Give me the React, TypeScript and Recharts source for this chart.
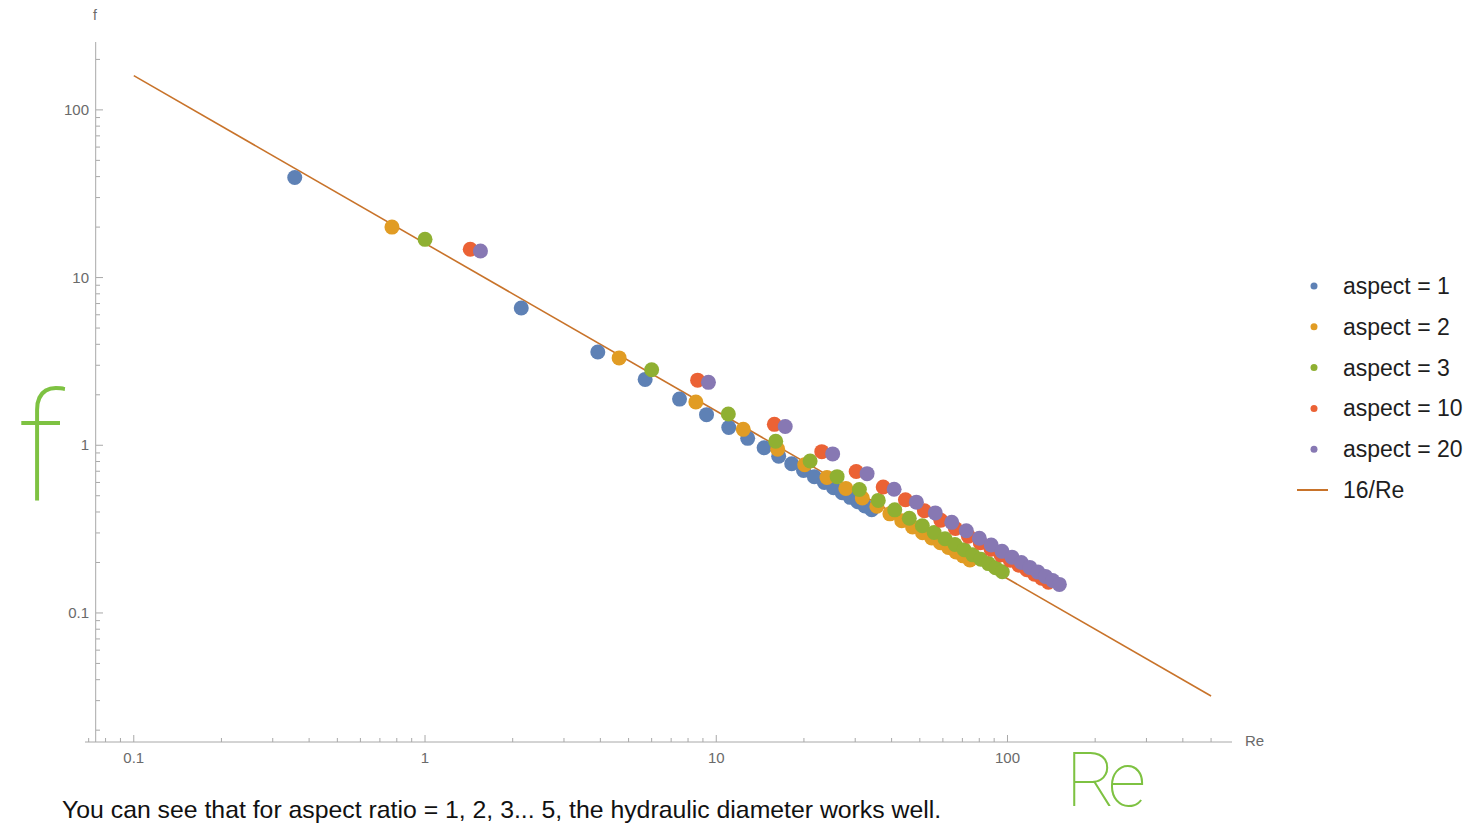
import React from 'react';
import { ScatterChart, Scatter, XAxis, YAxis, ReferenceLine } from 'recharts';

// ---- data (Re, f) per aspect ratio ----
const re1 = [0.357, 2.14, 3.92, 5.70, 7.48, 9.26, 11.04, 12.82, 14.60, 16.38, 18.16, 19.94, 21.72, 23.50, 25.28, 27.06, 28.84, 30.62, 32.40, 34.18];
const f1 = [39.5, 6.59, 3.60, 2.47, 1.885, 1.523, 1.277, 1.100, 0.966, 0.861, 0.776, 0.707, 0.649, 0.600, 0.558, 0.521, 0.489, 0.460, 0.435, 0.413];
const re2 = [0.77, 4.64, 8.51, 12.38, 16.25, 20.12, 23.99, 27.86, 31.73, 35.60, 39.47, 43.34, 47.21, 51.08, 54.95, 58.82, 62.69, 66.56, 70.43, 74.30];
const f2 = [20.0, 3.32, 1.81, 1.244, 0.948, 0.765, 0.642, 0.553, 0.485, 0.433, 0.390, 0.355, 0.326, 0.301, 0.280, 0.262, 0.246, 0.231, 0.219, 0.207];
const re3 = [1.0, 6.0, 11.0, 16.0, 21.0, 26.0, 31.0, 36.0, 41.0, 46.0, 51.0, 56.0, 61.0, 66.0, 71.0, 76.0, 81.0, 86.0, 91.0, 96.0];
const f3 = [16.9, 2.82, 1.536, 1.056, 0.805, 0.650, 0.545, 0.469, 0.412, 0.367, 0.331, 0.302, 0.277, 0.256, 0.238, 0.222, 0.209, 0.197, 0.186, 0.176];
const re10 = [1.43, 8.63, 15.83, 23.03, 30.23, 37.43, 44.63, 51.83, 59.03, 66.23, 73.43, 80.63, 87.83, 95.03, 102.2, 109.4, 116.6, 123.8, 131.0, 138.2];
const f10 = [14.76, 2.445, 1.333, 0.916, 0.698, 0.564, 0.473, 0.407, 0.357, 0.319, 0.287, 0.262, 0.240, 0.222, 0.2064, 0.1928, 0.1809, 0.1704, 0.1610, 0.1527];
const re20 = [1.55, 9.40, 17.25, 25.10, 32.95, 40.80, 48.65, 56.50, 64.35, 72.20, 80.05, 87.90, 95.75, 103.6, 111.5, 119.3, 127.2, 135.0, 142.9, 150.7];
const f20 = [14.39, 2.372, 1.293, 0.888, 0.677, 0.547, 0.458, 0.395, 0.347, 0.309, 0.279, 0.254, 0.233, 0.2152, 0.2000, 0.1869, 0.1753, 0.1652, 0.1561, 0.1480];

// 16/Re reference line end points
const reLine = [0.1, 500];
const fLine = [160, 0.032];

const seriesNames = ['aspect = 1', 'aspect = 2', 'aspect = 3', 'aspect = 10', 'aspect = 20'];
const seriesColors = ['#5E81B5', '#E19C24', '#8FB032', '#EB6235', '#8778B3'];
const lineName = '16/Re';
const lineColor = '#C8732A';

// ---- ticks ----
const xMajorTicks = [0.1, 1, 10, 100];
const xMajorLabels = ['0.1', '1', '10', '100'];
const xMinorTicks = [0.07, 0.08, 0.09, 0.2, 0.3, 0.4, 0.5, 0.6, 0.7, 0.8, 0.9, 2, 3, 4, 5, 6, 7, 8, 9, 20, 30, 40, 50, 60, 70, 80, 90, 200, 300, 400, 500];
const yMajorTicks = [0.1, 1, 10, 100];
const yMajorLabels = ['0.1', '1', '10', '100'];
const yMinorTicks = [0.02, 0.03, 0.04, 0.05, 0.06, 0.07, 0.08, 0.09, 0.2, 0.3, 0.4, 0.5, 0.6, 0.7, 0.8, 0.9, 2, 3, 4, 5, 6, 7, 8, 9, 20, 30, 40, 50, 60, 70, 80, 90, 200];

const xDomain = [0.068, 590];
const yDomain = [0.017, 254];
const yAxisAt = 0.074;

const toPoints = (xs: number[], ys: number[]) => xs.map((x, i) => ({ x, y: ys[i] }));
const seriesData = [toPoints(re1, f1), toPoints(re2, f2), toPoints(re3, f3), toPoints(re10, f10), toPoints(re20, f20)];
const lineData = toPoints(reLine, fLine);

const AXIS = '#a8a8a8';
const LABEL = '#6a6a6a';
const FONT = '"Liberation Sans", Arial, Helvetica, sans-serif';

const XTick = (props: any) => {
  const { x, y, payload } = props;
  const idx = xMajorTicks.indexOf(payload.value);
  const major = idx >= 0;
  return (
    <g>
      <line x1={x} x2={x} y1={y} y2={y - (major ? 7 : 4)} stroke={AXIS} strokeWidth={1} />
      {major && (
        <text x={x} y={y + 21} textAnchor="middle" fill={LABEL} fontSize={15} fontFamily={FONT}>
          {xMajorLabels[idx]}
        </text>
      )}
    </g>
  );
};

const Y_OFF = 11; // y axis sits a little right of the plot's left edge
const YTick = (props: any) => {
  const { x, y, payload } = props;
  const idx = yMajorTicks.indexOf(payload.value);
  const major = idx >= 0;
  const ax = x + Y_OFF;
  return (
    <g>
      <line x1={ax} x2={ax + (major ? 7 : 4)} y1={y} y2={y} stroke={AXIS} strokeWidth={1} />
      {major && (
        <text x={ax - 7} y={y + 5} textAnchor="end" fill={LABEL} fontSize={15} fontFamily={FONT}>
          {yMajorLabels[idx]}
        </text>
      )}
    </g>
  );
};

const NoShape = () => <g />;

export default function App() {
  const legendTop = 286;
  const legendStep = 40.8;
  return (
    <div style={{ position: 'fixed', left: 0, top: 0, width: 1476, height: 825, overflow: 'hidden', background: '#fff' }}>
      <ScatterChart width={1476} height={825} margin={{ top: 42, right: 244, bottom: 53, left: 25 }}>
        <XAxis
          type="number"
          dataKey="x"
          scale="log"
          domain={xDomain}
          allowDataOverflow
          ticks={[...xMajorTicks, ...xMinorTicks].sort((a, b) => a - b)}
          interval={0}
          tick={<XTick />}
          tickLine={false}
          tickSize={0}
          tickMargin={0}
          axisLine={{ stroke: AXIS }}
          height={30}
        />
        <YAxis
          type="number"
          dataKey="y"
          scale="log"
          domain={yDomain}
          allowDataOverflow
          ticks={[...yMajorTicks, ...yMinorTicks].sort((a, b) => a - b)}
          interval={0}
          tick={<YTick />}
          tickLine={false}
          tickSize={0}
          tickMargin={0}
          axisLine={false}
          width={60}
        />
        <ReferenceLine x={yAxisAt} stroke={AXIS} strokeWidth={1} />
        <Scatter
          name={lineName}
          data={lineData}
          line={{ stroke: lineColor, strokeWidth: 1.6 }}
          shape={NoShape}
          isAnimationActive={false}
        />
        {seriesData.map((d, i) => (
          <Scatter
            key={seriesNames[i]}
            name={seriesNames[i]}
            data={d}
            isAnimationActive={false}
            shape={(p: any) => <circle cx={p.cx} cy={p.cy} r={7.5} fill={seriesColors[i]} />}
          />
        ))}
      </ScatterChart>
      <svg width={1476} height={825} style={{ position: 'absolute', left: 0, top: 0, pointerEvents: 'none' }}>
        <text x={95} y={20} textAnchor="middle" fill={LABEL} fontSize={14} fontFamily={FONT}>f</text>
        <text x={1245} y={746} fill={LABEL} fontSize={15} fontFamily={FONT}>Re</text>
        {seriesNames.map((n, i) => (
          <g key={n}>
            <circle cx={1314} cy={legendTop + i * legendStep} r={3.5} fill={seriesColors[i]} />
            <text x={1343} y={legendTop + i * legendStep + 8} fill="#1e1e1e" fontSize={23} fontFamily={FONT}>{n}</text>
          </g>
        ))}
        <line x1={1297} x2={1328} y1={legendTop + 5 * legendStep} y2={legendTop + 5 * legendStep} stroke={lineColor} strokeWidth={2} />
        <text x={1343} y={legendTop + 5 * legendStep + 8} fill="#1e1e1e" fontSize={23} fontFamily={FONT}>{lineName}</text>
        <text x={62} y={818} fill="#111" fontSize={24.8} fontFamily={FONT}>
          You can see that for aspect ratio = 1, 2, 3... 5, the hydraulic diameter works well.
        </text>
        <text x={40} y={500} textAnchor="middle" fill="#7EC242" fontSize={150} fontWeight={100} fontFamily="Roboto, sans-serif">f</text>
        <text x={1066} y={806} fill="#7EC242" fontSize={76} fontWeight={100} letterSpacing={-8} fontFamily="Roboto, sans-serif">Re</text>
      </svg>
    </div>
  );
}
